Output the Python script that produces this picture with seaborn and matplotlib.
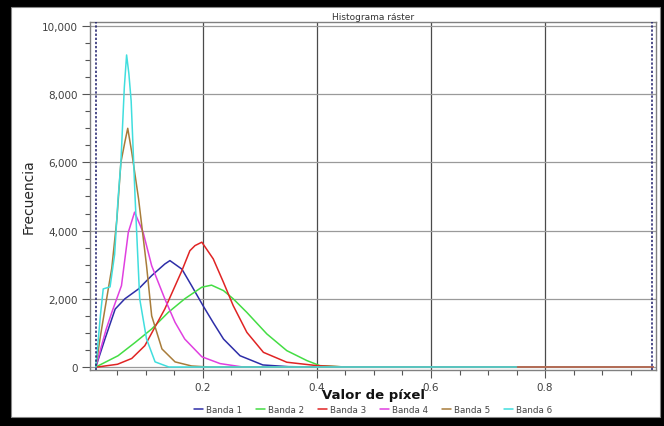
import matplotlib
matplotlib.use("Agg")
import matplotlib.pyplot as plt
import seaborn as sns
import pandas as pd
from matplotlib.patches import Rectangle
from matplotlib.ticker import MultipleLocator, FuncFormatter

# ---- data ----
band_names = ["Banda 1", "Banda 2", "Banda 3", "Banda 4", "Banda 5", "Banda 6"]

b1_x = [0.012, 0.028, 0.046, 0.063, 0.087, 0.110, 0.133, 0.142, 0.163, 0.180, 0.200, 0.218, 0.236, 0.265, 0.305, 0.350, 0.400, 0.990]
b1_y = [0, 820, 1700, 2000, 2290, 2680, 3020, 3120, 2870, 2385, 1800, 1300, 820, 330, 60, 10, 0, 0]

b2_x = [0.012, 0.051, 0.081, 0.110, 0.139, 0.168, 0.198, 0.215, 0.236, 0.253, 0.277, 0.312, 0.347, 0.382, 0.405, 0.450, 0.990]
b2_y = [0, 330, 720, 1115, 1600, 2000, 2340, 2400, 2240, 2000, 1600, 970, 480, 190, 40, 0, 0]

b3_x = [0.015, 0.050, 0.075, 0.098, 0.133, 0.163, 0.177, 0.186, 0.198, 0.218, 0.236, 0.253, 0.277, 0.306, 0.347, 0.400, 0.450, 0.990]
b3_y = [0, 80, 250, 625, 1700, 2825, 3410, 3560, 3660, 3170, 2480, 1800, 1015, 430, 140, 40, 0, 0]

b4_x = [0.012, 0.020, 0.030, 0.040, 0.057, 0.069, 0.080, 0.095, 0.110, 0.133, 0.151, 0.168, 0.198, 0.230, 0.270, 0.990]
b4_y = [0, 500, 1100, 1600, 2385, 3950, 4540, 3950, 2970, 2000, 1310, 820, 300, 100, 0, 0]

b5_x = [0.012, 0.020, 0.028, 0.040, 0.049, 0.056, 0.063, 0.068, 0.075, 0.087, 0.101, 0.110, 0.128, 0.151, 0.180, 0.210, 0.990]
b5_y = [0, 900, 1700, 2900, 4340, 6000, 6600, 7000, 6300, 4930, 2970, 1500, 530, 150, 30, 0, 0]

b6_x = [0.012, 0.020, 0.025, 0.037, 0.045, 0.051, 0.056, 0.062, 0.066, 0.070, 0.074, 0.081, 0.089, 0.101, 0.116, 0.140, 0.750]
b6_y = [0, 1500, 2290, 2350, 3300, 4930, 6000, 8200, 9150, 8600, 7800, 4930, 2000, 820, 150, 0, 0]

band_colors = ["#2e2ea8", "#44dd44", "#e02424", "#e040e0", "#a87c3a", "#40dede"]

xs = [b1_x, b2_x, b3_x, b4_x, b5_x, b6_x]
ys = [b1_y, b2_y, b3_y, b4_y, b5_y, b6_y]
frames = []
for name, x, y in zip(band_names, xs, ys):
    frames.append(pd.DataFrame({"x": x, "y": y, "band": name}))
df = pd.concat(frames, ignore_index=True)

# ---- figure ----
sns.set_style("white")
plt.rcParams["font.family"] = ["DejaVu Sans"]

fig = plt.figure(figsize=(6.64, 4.27), dpi=100)
fig.patch.set_facecolor("black")
W, H = 664, 427
fig.add_artist(Rectangle((11 / W, 9 / H), (W - 11 - 4) / W, (H - 9 - 8) / H,
                         transform=fig.transFigure, facecolor="white",
                         edgecolor="#888888", linewidth=0.8, zorder=0))

ax = fig.add_axes([90 / W, 1 - 371 / H, 566 / W, 348 / H])
ax.set_facecolor("white")

sns.lineplot(data=df, x="x", y="y", hue="band", palette=band_colors,
             hue_order=band_names, sort=False, estimator=None,
             linewidth=1.1, ax=ax, legend=True)

ax.set_xlim(0.0018, 0.9947)
ax.set_ylim(-88, 10117)

ax.xaxis.set_major_locator(MultipleLocator(0.2))
ax.xaxis.set_minor_locator(MultipleLocator(0.05))
ax.yaxis.set_major_locator(MultipleLocator(2000))
ax.yaxis.set_minor_locator(MultipleLocator(500))
ax.yaxis.set_major_formatter(FuncFormatter(lambda v, p: f"{int(v):,}"))
ax.xaxis.set_major_formatter(FuncFormatter(lambda v, p: f"{v:.1f}"))

ax.tick_params(axis="both", which="major", direction="out", length=6,
               width=0.8, color="#555555", labelsize=7.5, labelcolor="#404040",
               left=True, bottom=True, pad=3)
ax.tick_params(axis="both", which="minor", direction="out", length=3.5,
               width=0.8, color="#555555", left=True, bottom=True)

ax.grid(False)
for v in [0.2, 0.4, 0.6, 0.8]:
    ax.axvline(v, color="#4a4a4a", linewidth=0.9, zorder=0.5)
for v in [0, 2000, 4000, 6000, 8000, 10000]:
    ax.axhline(v, color="#9a9a9a", linewidth=0.9, zorder=0.5)

ax.axvline(0.012, color="#1c1c6a", linewidth=1.1, linestyle=(0, (1.5, 1.2)), zorder=3)
ax.axvline(0.988, color="#1c1c6a", linewidth=1.1, linestyle=(0, (1.5, 1.2)), zorder=3)

for s in ax.spines.values():
    s.set_color("#808080")
    s.set_linewidth(1.0)

ax.set_title("Histograma ráster", fontsize=6.5, color="#333333", pad=2)
ax.set_xlabel("")
fig.text(373 / W, 1 - 396 / H, "Valor de píxel", fontsize=9.5, fontweight="bold",
         ha="center", va="center", color="#111111")
ax.set_ylabel("Frecuencia", fontsize=10,
              family=["Liberation Sans Narrow", "DejaVu Sans"], labelpad=4)

handles, labels = ax.get_legend_handles_labels()
ax.legend_.remove()
fig.legend(handles, labels, loc="center", bbox_to_anchor=(373 / W, 1 - 410.5 / H),
           ncol=6, frameon=False, fontsize=6.3, handlelength=1.0,
           handletextpad=0.35, columnspacing=1.6, labelcolor="#444444")

fig.savefig("out.png", dpi=100, facecolor=fig.get_facecolor())
